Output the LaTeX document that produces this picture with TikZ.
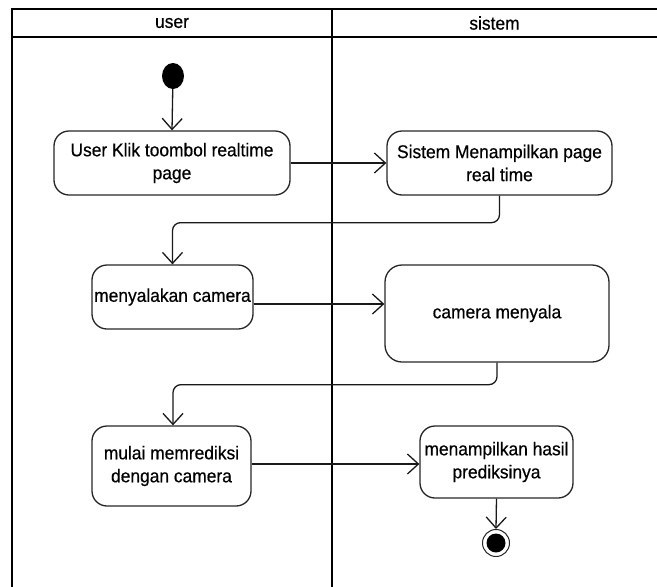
\documentclass[tikz,border=0pt]{standalone}
\usepackage{fontspec}
\setmainfont{Liberation Sans}[FakeStretch=0.94,FakeBold=0.5]
\usetikzlibrary{arrows.meta,shapes.geometric}
\begin{document}
\begin{tikzpicture}[x=1pt,y=-1pt,
  lane/.style={line width=2.2pt,draw=black},
  action/.style={draw=black!85,line width=1.3pt,rounded corners=15pt,
    align=center,inner sep=1pt,text=black,
    font=\fontsize{18.5}{23}\selectfont},
  head/.style={text=black,font=\fontsize{18.5}{20}\selectfont},
  flow/.style={draw=black!90,line width=1.3pt,rounded corners=8pt,
    -{Straight Barb[length=11pt,width=20pt,line width=1.3pt]}}]
\useasboundingbox (0,0) rectangle (657,587);
\clip (0,0) rectangle (657,587);

% swimlane frame
\draw[lane] (12,600) -- (12,9) -- (670,9);
\draw[lane] (12,37) -- (670,37);
\draw[lane] (332,9) -- (332,600);
\node[head] (huser) at (172,23) {user};
\node[head] (hsis) at (494.5,23) {sistem};

% initial state
\node[ellipse,fill=black,minimum width=22pt,minimum height=26pt,inner sep=0pt] (start) at (173,76) {};

% actions
\node[action,minimum width=236pt,minimum height=64pt] (n1) at (172,163) {User Klik toombol realtime\\page};
\node[action,minimum width=225pt,minimum height=64pt] (n2) at (499.5,163) {Sistem Menampilkan page\\real time};
\node[action,minimum width=161pt,minimum height=64pt] (n3) at (172.5,297) {menyalakan camera};
\node[action,minimum width=224pt,minimum height=97pt,rounded corners=17pt] (n4) at (497,313.5) {camera menyala};
\node[action,minimum width=159pt,minimum height=80pt] (n5) at (171.5,466) {mulai memrediksi\\dengan camera};
\node[action,minimum width=153pt,minimum height=72pt] (n6) at (496.5,462) {menampilkan hasil\\prediksinya};

% final state
\node[circle,draw=black!85,line width=1pt,minimum size=27pt,inner sep=0pt] (end) at (496,543) {};
\fill[black] (end.center) circle (9.5pt);

% control flow
\draw[flow] (start) -- (n1.north);
\draw[flow] (n1.east) -- (n2.west);
\draw[flow] (n2.south) -- ++(0,27) -| (n3.north);
\draw[flow] ([yshift=-7pt]n3.east) -- ([yshift=-7pt]n3.east -| n4.west);
\draw[flow] (n4.south) -- ++(0,22) -| ([xshift=1.5pt]n5.north);
\draw[flow] ([yshift=2pt]n5.east) -- ([yshift=2pt]n5.east -| n6.west);
\draw[flow] (n6.south) -- (end.north);
\end{tikzpicture}
\end{document}
